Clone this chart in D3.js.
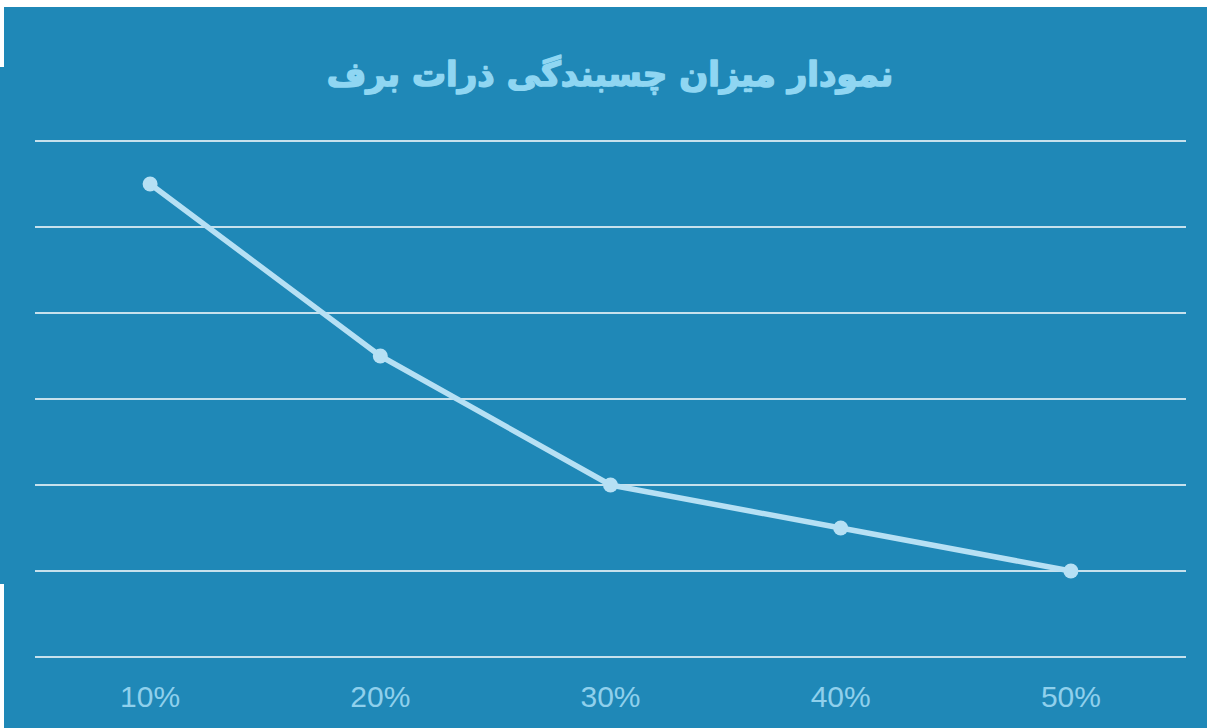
<!DOCTYPE html>
<html>
<head>
<meta charset="utf-8">
<script src="https://cdn.jsdelivr.net/npm/d3@7"></script>
<style>
  body { margin: 0; background: #ffffff; }
  svg { display: block; }
</style>
</head>
<body>
<div id="chart"></div>
<script>
// chart data
var categories = ["10%", "20%", "30%", "40%", "50%"];
var values = [5.5, 3.5, 2, 1.5, 1];
var gridValues = [0, 1, 2, 3, 4, 5, 6];
var title = "نمودار میزان چسبندگی ذرات برف";

var width = 1207, height = 728;
var margin = { top: 141, right: 21, bottom: 71, left: 35 };

var svg = d3.select("#chart")
    .append("svg")
    .attr("width", width)
    .attr("height", height);

// background panels
svg.append("rect")
    .attr("x", 4).attr("y", 7)
    .attr("width", width - 4).attr("height", height - 7)
    .attr("fill", "#1f88b7");
svg.append("rect")
    .attr("x", 0).attr("y", 67)
    .attr("width", 6).attr("height", 517)
    .attr("fill", "#1f88b7");

var x = d3.scaleBand()
    .domain(categories)
    .range([margin.left, width - margin.right]);

var y = d3.scaleLinear()
    .domain([0, 6])
    .range([height - margin.bottom, margin.top]);

// gridlines
svg.append("g")
    .selectAll("line")
    .data(gridValues)
    .enter()
    .append("line")
    .attr("x1", margin.left)
    .attr("x2", width - margin.right)
    .attr("y1", function(d) { return y(d); })
    .attr("y2", function(d) { return y(d); })
    .attr("stroke", "#ffffff")
    .attr("stroke-width", 1.6);

// x axis labels
var xAxis = d3.axisBottom(x).tickSize(0).tickPadding(0);
var gx = svg.append("g")
    .attr("transform", "translate(0," + (height - margin.bottom) + ")")
    .call(xAxis);
gx.select(".domain").remove();
gx.selectAll("text")
    .attr("dy", 0)
    .attr("y", 50)
    .attr("fill", "#8fd0ec")
    .style("font-family", "'Liberation Sans', Arial, sans-serif")
    .style("font-size", "30px");

// line
var line = d3.line()
    .x(function(d, i) { return x(categories[i]) + x.bandwidth() / 2; })
    .y(function(d) { return y(d); });

svg.append("path")
    .datum(values)
    .attr("d", line)
    .attr("fill", "none")
    .attr("stroke", "#b6e0f4")
    .attr("stroke-width", 5.5)
    .attr("stroke-linejoin", "round");

svg.append("g")
    .selectAll("circle")
    .data(values)
    .enter()
    .append("circle")
    .attr("cx", function(d, i) { return x(categories[i]) + x.bandwidth() / 2; })
    .attr("cy", function(d) { return y(d); })
    .attr("r", 7.5)
    .attr("fill", "#b6e0f4");

// title
svg.append("text")
    .attr("x", 610)
    .attr("y", 86)
    .attr("text-anchor", "middle")
    .attr("direction", "rtl")
    .attr("fill", "#8fd6f2")
    .attr("stroke", "#8fd6f2")
    .attr("stroke-width", 1.6)
    .attr("stroke-linejoin", "round")
    .style("font-family", "'DejaVu Sans', sans-serif")
    .style("font-weight", "bold")
    .style("font-size", "34px")
    .text(title);
</script>
</body>
</html>
